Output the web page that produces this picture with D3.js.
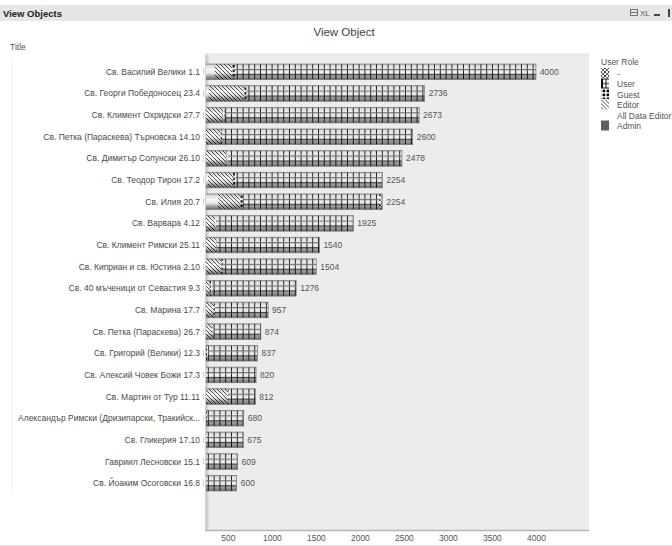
<!DOCTYPE html>
<html><head><meta charset="utf-8">
<script src="https://cdn.jsdelivr.net/npm/d3@7"></script>
<style>
html,body{margin:0;padding:0;background:#fff;}
svg{display:block;font-family:Arial,"Liberation Sans",sans-serif;}
</style></head>
<body>
<script>
const categories = [
 "Св. Василий Велики 1.1","Св. Георги Победоносец 23.4","Св. Климент Охридски 27.7",
 "Св. Петка (Параскева) Търновска 14.10","Св. Димитър Солунски 26.10","Св. Теодор Тирон 17.2",
 "Св. Илия 20.7","Св. Варвара 4.12","Св. Климент Римски 25.11","Св. Киприан и св. Юстина  2.10",
 "Св. 40 мъченици от Севастия 9.3","Св. Марина 17.7","Св. Петка (Параскева) 26.7",
 "Св. Григорий (Велики) 12.3","Св. Алексий Човек Божи 17.3","Св. Мартин от Тур 11.11",
 "Александър Римски (Дризипарски, Тракийск...","Св. Гликерия 17.10","Гавриил Лесновски 15.1",
 "Св. Йоаким Осоговски 16.8"];
const roles = ["Admin","All Data Editor","Editor","Guest","User","-"];
const legendOrder = ["-","User","Guest","Editor","All Data Editor","Admin"];
const admin         = [60,40,30,30,30,40,60,30,30,30,30,30,30,30,20,30,30,20,20,20];
const allDataEditor = [292,244,170,170,170,235,330,170,170,170,150,150,150,150,130,170,150,130,130,130];
const editor        = [197,398,240,217,285,285,246,152,164,228,115,161,146,70,40,303,55,50,40,40];
const guest         = [31,30,26,15,15,28,34,12,11,15,27,11,9,23,10,9,26,10,10,10];
const user          = [3420,2024,2207,2168,1978,1666,1549,1561,1165,1061,954,605,539,564,620,300,419,465,409,400];
const dash          = [0,0,0,0,0,0,35,0,0,0,0,0,0,0,0,0,0,0,0,0];
const xTicks = [500,1000,1500,2000,2500,3000,3500,4000];

const seriesValues = {"Admin":admin,"All Data Editor":allDataEditor,"Editor":editor,"Guest":guest,"User":user,"-":dash};
const table = categories.map((c,i)=>{const o={cat:c};roles.forEach(r=>o[r]=seriesValues[r][i]);o.total=roles.reduce((s,r)=>s+o[r],0);return o;});

const W=672,H=546;
const svg=d3.select("body").append("svg").attr("width",W).attr("height",H);
const defs=svg.append("defs");

function pat(id,w,h,draw){const p=defs.append("pattern").attr("id",id).attr("patternUnits","userSpaceOnUse").attr("width",w).attr("height",h);draw(p);return p;}
const plotL=205,plotR=589,plotT=53,plotB=531;
const x=d3.scaleLinear().domain([240,4600]).range([plotL,588.7]);
const y=d3.scaleBand().domain(categories).range([61,494]).paddingInner(0.28).paddingOuter(0.14);
const bw=y.bandwidth();
const y0=y(categories[0]);

pat("p-editor",4,4,p=>{p.append("rect").attr("width",4).attr("height",4).attr("fill","#fff");
 p.append("path").attr("d","M-1,-1L5,5M3,-1L5,1M-1,3L1,5").attr("stroke","#333").attr("stroke-width",0.9);});
pat("p-guest",4,4.5,p=>{p.append("rect").attr("width",4).attr("height",4.5).attr("fill","#fff");
 p.append("rect").attr("x",0.5).attr("y",1).attr("width",2.4).attr("height",2.4).attr("fill","#000");}).attr("y",y0);
pat("p-user",5.8,y.step(),p=>{p.append("rect").attr("width",5.8).attr("height",y.step()).attr("fill","#fff");
 p.append("line").attr("x1",5.3).attr("x2",5.3).attr("y1",0).attr("y2",y.step()).attr("stroke","#222").attr("stroke-width",1);
 [bw*0.36,bw*0.68].forEach(v=>p.append("line").attr("x1",0).attr("x2",5.8).attr("y1",v).attr("y2",v).attr("stroke","#222").attr("stroke-width",1));
}).attr("y",y0);
pat("p-dash",5,5,p=>{p.append("rect").attr("width",5).attr("height",5).attr("fill","#fff");
 p.append("path").attr("d","M-1,-1L6,6M6,-1L-1,6").attr("stroke","#222").attr("stroke-width",0.8);});
pat("l-user",8,10,p=>{p.append("rect").attr("width",8).attr("height",10).attr("fill","#fff");
 p.append("path").attr("d","M0.5,0V10M4,0V10M7.5,0V10M0,0.5H8M0,5H8M0,9.5H8").attr("stroke","#111").attr("stroke-width",1).attr("fill","none");}).attr("x",601).attr("y",0);
pat("l-guest",4,4,p=>{p.append("rect").attr("width",4).attr("height",4).attr("fill","#fff");
 p.append("rect").attr("x",0.6).attr("y",0.6).attr("width",2.6).attr("height",2.6).attr("fill","#000");}).attr("x",601);
pat("l-dash",4,4,p=>{p.append("rect").attr("width",4).attr("height",4).attr("fill","#fff");
 p.append("path").attr("d","M-1,-1L5,5M5,-1L-1,5").attr("stroke","#111").attr("stroke-width",0.8);
 p.append("circle").attr("cx",2).attr("cy",2).attr("r",0.6).attr("fill","#fff");});

const fills={"Admin":"#5e5e5e","All Data Editor":"#ffffff","Editor":"url(#p-editor)","Guest":"url(#p-guest)","User":"url(#p-user)","-":"url(#p-dash)"};
const legendFills={"Admin":"#5e5e5e","All Data Editor":"#ffffff","Editor":"url(#p-editor)","Guest":"url(#l-guest)","User":"url(#l-user)","-":"url(#l-dash)"};

const grad=defs.append("linearGradient").attr("id","cyl").attr("x1",0).attr("x2",0).attr("y1",0).attr("y2",1);
[[0,"#000",0.3],[0.12,"#000",0.1],[0.38,"#fff",0.25],[0.55,"#000",0.05],[0.8,"#000",0.38],[1,"#000",0.6]]
 .forEach(s=>grad.append("stop").attr("offset",s[0]).attr("stop-color",s[1]).attr("stop-opacity",s[2]));

defs.append("clipPath").attr("id","plotclip").append("rect").attr("x",plotL+1).attr("y",plotT).attr("width",plotR-plotL).attr("height",plotB-plotT);

// header
svg.append("rect").attr("x",0).attr("y",5).attr("width",W).attr("height",16).attr("fill","#e6e6e6");
svg.append("text").attr("x",3).attr("y",16.5).attr("font-size",9.5).attr("font-weight","bold").attr("fill","#222").text("View Objects");
const ic=svg.append("g").attr("fill","none").attr("stroke","#555").attr("stroke-width",0.8);
ic.append("rect").attr("x",630.5).attr("y",9.5).attr("width",7).attr("height",6);
ic.append("line").attr("x1",630.5).attr("x2",637.5).attr("y1",12.5).attr("y2",12.5);
svg.append("text").attr("x",640).attr("y",16).attr("font-size",8).attr("fill","#555").text("XL");
svg.append("rect").attr("x",654).attr("y",14).attr("width",6).attr("height",2).attr("fill","#444");
svg.append("rect").attr("x",668).attr("y",9).attr("width",2).attr("height",8).attr("fill","#444");

// title
svg.append("text").attr("x",344).attr("y",36).attr("text-anchor","middle").attr("font-size",11.5).attr("fill","#444").text("View Object");
svg.append("text").attr("x",10).attr("y",50).attr("font-size",8.5).attr("fill","#555").text("Title");

// plot background
svg.append("rect").attr("x",plotL).attr("y",plotT).attr("width",plotR-plotL).attr("height",plotB-plotT).attr("fill","#ececec");
svg.append("rect").attr("x",plotL).attr("y",plotT+2).attr("width",3.5).attr("height",plotB-plotT-2).attr("fill","#cfcfcf");
svg.append("line").attr("x1",plotL).attr("x2",plotR).attr("y1",plotB-0.5).attr("y2",plotB-0.5).attr("stroke","#b5b5b5").attr("stroke-width",1.5);
svg.append("line").attr("x1",11.5).attr("x2",11.5).attr("y1",58).attr("y2",494).attr("stroke","#f2f2f2");

// bars
const stack=d3.stack().keys(roles)(table);
const gBars=svg.append("g").attr("clip-path","url(#plotclip)");
stack.forEach(layer=>{
 gBars.append("g").selectAll("rect").data(layer).join("rect")
  .attr("x",d=>x(d[0])).attr("width",d=>Math.max(0,x(d[1])-x(d[0])))
  .attr("y",d=>y(d.data.cat)).attr("height",bw).attr("fill",fills[layer.key]);
});
gBars.append("g").selectAll("rect").data(table).join("rect")
 .attr("x",x(0)).attr("width",d=>x(d.total)-x(0)).attr("y",d=>y(d.cat)).attr("height",bw)
 .attr("fill","url(#cyl)").attr("stroke","#777").attr("stroke-width",0.7);

// value labels
svg.append("g").selectAll("text").data(table).join("text")
 .attr("x",d=>x(d.total)+4).attr("y",d=>y(d.cat)+bw/2+3).attr("font-size",8.5).attr("fill","#555").text(d=>d.total);

// category labels
svg.append("g").selectAll("text").data(categories).join("text")
 .attr("x",200).attr("y",d=>y(d)+bw/2+3).attr("text-anchor","end").attr("font-size",8.5).attr("fill","#4a4a4a").text(d=>d);
svg.append("g").selectAll("line").data(categories).join("line")
 .attr("x1",203.5).attr("x2",203.5).attr("y1",d=>y(d)+bw/2-3).attr("y2",d=>y(d)+bw/2+3).attr("stroke","#cfcfcf");

// x axis
const xAxis=d3.axisBottom(x).tickValues(xTicks).tickSize(0).tickPadding(4).tickFormat(d3.format("d"));
const ga=svg.append("g").attr("transform",`translate(0,${plotB})`).call(xAxis);
ga.select(".domain").remove();
ga.selectAll("text").attr("font-size",8.5).attr("fill","#555").attr("font-family","Arial,'Liberation Sans',sans-serif");

// legend
svg.append("text").attr("x",601).attr("y",65).attr("font-size",8.5).attr("fill","#555").text("User Role");
const lg=svg.append("g").selectAll("g").data(legendOrder).join("g").attr("transform",(d,i)=>`translate(601,${68+i*10.5})`);
lg.append("rect").attr("width",8).attr("height",10).attr("fill",d=>legendFills[d]);
lg.append("text").attr("x",16).attr("y",8.5).attr("font-size",8.5).attr("fill","#555").text(d=>d);
svg.append("line").attr("x1",0).attr("x2",W).attr("y1",545.5).attr("y2",545.5).attr("stroke","#e4e4e4");
</script>
</body></html>
